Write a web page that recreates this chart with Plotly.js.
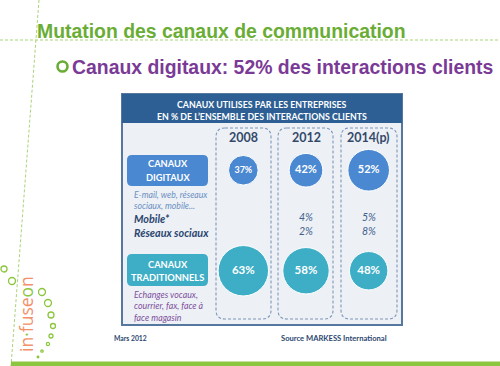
<!DOCTYPE html>
<html>
<head>
<meta charset="utf-8">
<script src="https://cdn.plot.ly/plotly-3.0.1.min.js"></script>
<style>html,body{margin:0;padding:0;background:#fff;}#chart{width:500px;height:366px;}</style>
</head>
<body>
<div id="chart"></div>
<script>
// ---- data ----
const years = ['2008', '2012', '2014(p)'];
const rows = ['Canaux traditionnels', 'Canaux digitaux'];
const digital = [37, 42, 52];
const traditional = [63, 58, 48];
const mobile = [null, 4, 5];
const social = [null, 2, 8];
const titleText = 'Mutation des canaux de communication';
const subtitleText = 'Canaux digitaux: 52% des interactions clients';
const headerLines = ['CANAUX UTILISES PAR LES ENTREPRISES', 'EN % DE L\u2019ENSEMBLE DES INTERACTIONS CLIENTS'];
const digitalLabel = ['CANAUX', 'DIGITAUX'];
const tradLabel = ['CANAUX', 'TRADITIONNELS'];
const digitalNote = ['E-mail, web, réseaux', 'sociaux, mobile...'];
const subRows = ['Mobile*', 'Réseaux sociaux'];
const tradNote = ['Echanges vocaux,', 'courrier, fax, face à', 'face magasin'];
const dateText = 'Mars 2012';
const sourceText = 'Source MARKESS International';

// ---- styles ----
const GREEN = '#6aad35', PURPLE = '#7a3a96', BLUE = '#4a88d2', TEAL = '#3eadc6';
const HEAD = '#2d5f94', BODY = '#edf1f6', BORDER = '#56789f', DARK = '#2b4670';
const PF = 'Lato, "Open Sans", sans-serif';

function rr(x0, y0, x1, y1, r) {
  return `M${x0 + r},${y0} L${x1 - r},${y0} Q${x1},${y0} ${x1},${y0 + r} L${x1},${y1 - r} Q${x1},${y1} ${x1 - r},${y1} L${x0 + r},${y1} Q${x0},${y1} ${x0},${y1 - r} L${x0},${y0 + r} Q${x0},${y0} ${x0 + r},${y0} Z`;
}

const shapes = [];
// slide decor
shapes.push({type: 'line', xref: 'x', yref: 'y', x0: 0, x1: 500, y0: 40, y1: 40, line: {color: '#a9d47a', width: 1, dash: '3px,2px'}, layer: 'below'});
shapes.push({type: 'line', xref: 'x', yref: 'y', x0: 39, x1: 11, y0: 0, y1: 366, line: {color: '#a9d47a', width: 1, dash: '3px,2px'}, layer: 'below'});
shapes.push({type: 'rect', xref: 'x', yref: 'y', x0: 11, x1: 500, y0: 361.5, y1: 366, fillcolor: '#8cc63e', line: {width: 0}, layer: 'below'});
// panel
shapes.push({type: 'rect', xref: 'x', yref: 'y', x0: 122, x1: 402, y0: 94, y1: 325, fillcolor: BODY, line: {color: BORDER, width: 2}, layer: 'below'});
shapes.push({type: 'rect', xref: 'x', yref: 'y', x0: 122, x1: 402, y0: 94, y1: 123, fillcolor: HEAD, line: {width: 0}, layer: 'below'});
// column dashed boxes
[[216, 271], [278, 333], [341, 397]].forEach(c => {
  shapes.push({type: 'path', xref: 'x', yref: 'y', path: rr(c[0], 128, c[1], 319, 9), line: {color: '#7f96b8', width: 1.1, dash: '3px,2px'}, layer: 'below'});
});
// label boxes
shapes.push({type: 'path', xref: 'x', yref: 'y', path: rr(127, 155, 208, 186, 5), fillcolor: BLUE, line: {width: 0}, layer: 'below'});
shapes.push({type: 'path', xref: 'x', yref: 'y', path: rr(127, 254, 208, 286, 5), fillcolor: TEAL, line: {width: 0}, layer: 'below'});
// logo circles
[[4, 269, 3], [12, 281, 3.5], [42, 292, 3.5], [48, 303, 3.5], [51, 315, 3], [53, 326, 2.5], [51, 336, 2], [48, 344, 1.6], [42, 351, 1.2], [38, 357, 0.8]].forEach(c => {
  shapes.push({type: 'circle', xref: 'x', yref: 'y', x0: c[0] - c[2], x1: c[0] + c[2], y0: c[1] - c[2], y1: c[1] + c[2], line: {color: '#8cc63e', width: 1.3}, layer: 'below'});
});
// bullet
shapes.push({type: 'circle', xref: 'x', yref: 'y', x0: 57.5, x1: 67.5, y0: 61.5, y1: 71.5, line: {color: GREEN, width: 2.6}});

const annotations = [];
function ann(text, x, y, o) {
  annotations.push(Object.assign({text: text, x: x, y: y, xref: 'x', yref: 'y', showarrow: false, xanchor: 'left', yanchor: 'middle', align: 'left'}, o || {}));
}
ann('<b>' + titleText + '</b>', 35, 31, {font: {family: '"Liberation Sans", Arial, sans-serif', size: 19.4, color: GREEN}});
ann('<b>' + subtitleText + '</b>', 70, 67, {font: {family: '"Liberation Sans", Arial, sans-serif', size: 19.4, color: PURPLE}});
ann('<b>' + headerLines[0] + '</b>', 262, 104, {xanchor: 'center', font: {family: PF, size: 8.8, color: '#ffffff'}});
ann('<b>' + headerLines[1] + '</b>', 262, 116.5, {xanchor: 'center', font: {family: PF, size: 8.8, color: '#ffffff'}});
years.forEach((y, i) => {
  annotations.push({text: '<b>' + y + '</b>', x: i, xref: 'x2', y: 137.5, yref: 'y', showarrow: false, xanchor: 'center', yanchor: 'middle', font: {family: PF, size: 12.5, color: '#34496a'}});
});
ann('<b>' + digitalLabel[0] + '</b>', 167.5, 163.5, {xanchor: 'center', font: {family: PF, size: 9.3, color: '#fff'}});
ann('<b>' + digitalLabel[1] + '</b>', 167.5, 177.5, {xanchor: 'center', font: {family: PF, size: 9.3, color: '#fff'}});
ann('<b>' + tradLabel[0] + '</b>', 167.5, 264.5, {xanchor: 'center', font: {family: PF, size: 9.3, color: '#fff'}});
ann('<b>' + tradLabel[1] + '</b>', 167.5, 277.5, {xanchor: 'center', font: {family: PF, size: 9.3, color: '#fff'}});
ann('<i>' + digitalNote[0] + '</i>', 132, 194, {font: {family: PF, size: 8.7, color: '#6b8fc2'}});
ann('<i>' + digitalNote[1] + '</i>', 132, 205, {font: {family: PF, size: 8.7, color: '#6b8fc2'}});
ann('<b><i>' + subRows[0] + '</i></b>', 132, 218, {font: {family: PF, size: 10.8, color: DARK}});
ann('<b><i>' + subRows[1] + '</i></b>', 132, 232, {font: {family: PF, size: 10.8, color: DARK}});
tradNote.forEach((t, i) => ann('<i>' + t + '</i>', 132, 294.5 + i * 11.3, {font: {family: PF, size: 8.8, color: '#7e4f9c'}}));
years.forEach((y, i) => {
  if (mobile[i] !== null) annotations.push({text: '<i>' + mobile[i] + '%</i>', x: i, xref: 'x2', y: 217, yref: 'y', showarrow: false, xanchor: 'center', yanchor: 'middle', font: {family: PF, size: 10.5, color: '#3f5f8c'}});
  if (social[i] !== null) annotations.push({text: '<i>' + social[i] + '%</i>', x: i, xref: 'x2', y: 231, yref: 'y', showarrow: false, xanchor: 'center', yanchor: 'middle', font: {family: PF, size: 10.5, color: '#3f5f8c'}});
});
ann('<b>' + dateText + '</b>', 112, 338, {font: {family: PF, size: 6.8, color: DARK}});
ann('<b>' + sourceText + '</b>', 389, 338, {xanchor: 'right', font: {family: PF, size: 7.6, color: DARK}});
// logo text
annotations.push({text: 'in<span style="color:#8cc63e">\u00b7</span>fuse<span style="color:#8cc63e">o</span>n', x: 26, y: 314, xref: 'x', yref: 'y', showarrow: false, textangle: -90, xanchor: 'center', yanchor: 'middle', font: {family: '"Open Sans", sans-serif', size: 17.5, color: '#f39069'}});

const traces = [
  {type: 'scatter', mode: 'markers+text', x: years, y: years.map(() => rows[1]), xaxis: 'x2', yaxis: 'y2',
   text: digital.map(v => '<b>' + v + '%</b>'), textposition: 'middle center',
   textfont: {family: PF, size: digital.map((v, i) => i === 0 ? 9 : 11), color: '#ffffff'},
   marker: {size: digital, sizemode: 'diameter', sizeref: 1.25, color: BLUE, opacity: 1, line: {color: '#ffffff', width: 1}},
   hoverinfo: 'skip', showlegend: false},
  {type: 'scatter', mode: 'markers+text', x: years, y: years.map(() => rows[0]), xaxis: 'x2', yaxis: 'y2',
   text: traditional.map(v => '<b>' + v + '%</b>'), textposition: 'middle center',
   textfont: {family: PF, size: 11.5, color: '#ffffff'},
   marker: {size: traditional, sizemode: 'diameter', sizeref: 1.25, color: TEAL, opacity: 1, line: {color: '#ffffff', width: 1}},
   hoverinfo: 'skip', showlegend: false}
];

const layout = {
  width: 500, height: 366,
  margin: {l: 0, r: 0, t: 0, b: 0, pad: 0},
  paper_bgcolor: '#ffffff', plot_bgcolor: 'rgba(0,0,0,0)',
  showlegend: false,
  xaxis: {range: [0, 500], domain: [0, 1], visible: false, fixedrange: true},
  yaxis: {range: [366, 0], domain: [0, 1], visible: false, fixedrange: true},
  xaxis2: {type: 'category', categoryorder: 'array', categoryarray: years, range: [-0.5, 2.5], domain: [0.424, 0.8], anchor: 'y2', visible: false},
  yaxis2: {type: 'category', categoryorder: 'array', categoryarray: rows, range: [-0.5, 1.5], domain: [45 / 366, 246 / 366], anchor: 'x2', visible: false},
  shapes: shapes,
  annotations: annotations
};
Plotly.newPlot('chart', traces, layout, {staticPlot: true, displayModeBar: false});
</script>
</body>
</html>
